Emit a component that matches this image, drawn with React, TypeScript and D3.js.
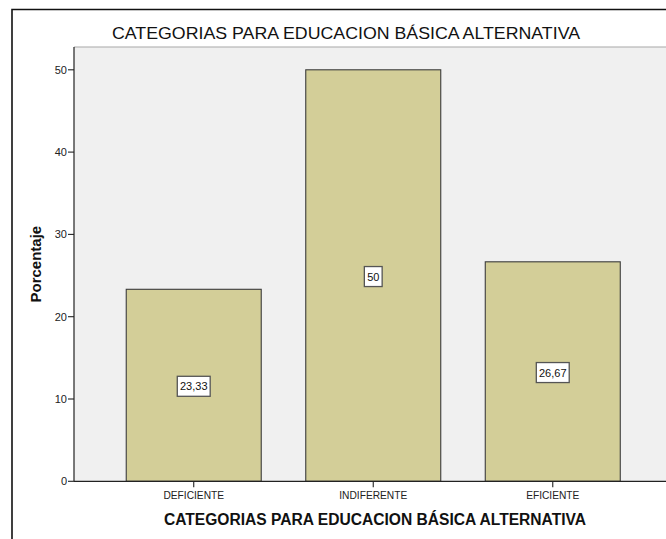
import React from 'react';
import * as d3 from 'd3';

// chart data
const categories = ['DEFICIENTE', 'INDIFERENTE', 'EFICIENTE'];
const percentages = [23.33, 50, 26.67];
const valueLabels = ['23,33', '50', '26,67'];
const yTicks = [0, 10, 20, 30, 40, 50];

const chartTitle = 'CATEGORIAS PARA EDUCACION BÁSICA ALTERNATIVA';
const xTitle = 'CATEGORIAS PARA EDUCACION BÁSICA ALTERNATIVA';
const yTitle = 'Porcentaje';

const W = 666;
const H = 539;
const plot = { left: 74, right: 672.5, top: 47, bottom: 481.3 };
const font = '"Liberation Sans", Arial, sans-serif';

const App = () => {
  const x = d3.scaleBand<string>()
    .domain(categories)
    .range([plot.left, plot.right])
    .paddingInner(0.248)
    .paddingOuter(0.291);

  const y = d3.scaleLinear()
    .domain([0, 50])
    .range([plot.bottom, plot.bottom - 411.5]);

  const barFill = '#D3CE98';

  return (
    <svg width={W} height={H} style={{ position: 'absolute', left: 0, top: 0, background: '#fff' }}>
      {/* outer frame */}
      <path d={`M12,${H + 2} L12,9.5 L${W + 2},9.5`} fill="none" stroke="#111" strokeWidth={1.6} />

      {/* title */}
      <text x={346} y={39} textAnchor="middle" fontFamily={font} fontSize={16.5} fill="#111"
        textLength={468} lengthAdjust="spacingAndGlyphs">
        {chartTitle}
      </text>

      {/* plot background */}
      <rect x={plot.left} y={plot.top} width={plot.right - plot.left} height={plot.bottom - plot.top} fill="#F0F0F0" />
      <line x1={plot.left} x2={plot.right} y1={plot.top} y2={plot.top} stroke="#A8A8A8" strokeWidth={1.2} />

      {/* bars */}
      {categories.map((c, i) => (
        <rect key={c}
          x={x(c)}
          y={y(percentages[i])}
          width={x.bandwidth()}
          height={y(0) - y(percentages[i])}
          fill={barFill}
          stroke="#3C3C3C"
          strokeWidth={1.1} />
      ))}

      {/* value labels */}
      {categories.map((c, i) => {
        const cx = (x(c) || 0) + x.bandwidth() / 2;
        const cy = (y(percentages[i]) + y(0)) / 2 + 1;
        const tw = valueLabels[i].length * 5.9 + (valueLabels[i].includes(',') ? -2.6 : 0);
        const bw = tw + 6;
        return (
          <g key={c + '-lbl'}>
            <rect x={cx - bw / 2} y={cy - 10} width={bw} height={20} fill="#fff" stroke="#555" strokeWidth={1.3} />
            <text x={cx} y={cy + 4} textAnchor="middle" fontFamily={font} fontSize={11} fill="#111">
              {valueLabels[i]}
            </text>
          </g>
        );
      })}

      {/* axes lines */}
      <line x1={plot.left} x2={plot.left} y1={plot.top} y2={plot.bottom} stroke="#222" strokeWidth={1.2} />
      <line x1={plot.left} x2={plot.right} y1={plot.bottom} y2={plot.bottom} stroke="#222" strokeWidth={1.2} />

      {/* y ticks */}
      {yTicks.map(t => (
        <g key={t}>
          <line x1={plot.left - 6} x2={plot.left} y1={y(t)} y2={y(t)} stroke="#222" strokeWidth={1.1} />
          <text x={plot.left - 7} y={y(t) + 4} textAnchor="end" fontFamily={font} fontSize={11} fill="#222">
            {t}
          </text>
        </g>
      ))}

      {/* x ticks */}
      {categories.map(c => {
        const cx = (x(c) || 0) + x.bandwidth() / 2;
        return (
          <g key={c + '-tick'}>
            <line x1={cx} x2={cx} y1={plot.bottom} y2={plot.bottom + 6} stroke="#222" strokeWidth={1.1} />
            <text x={cx} y={plot.bottom + 18} textAnchor="middle" fontFamily={font} fontSize={10.2} fill="#222">
              {c}
            </text>
          </g>
        );
      })}

      {/* axis titles */}
      <text x={375} y={525} textAnchor="middle" fontFamily={font} fontSize={15.6} fontWeight="bold" fill="#111">
        {xTitle}
      </text>
      <text transform={`translate(41,${(plot.top + plot.bottom) / 2}) rotate(-90)`} textAnchor="middle"
        fontFamily={font} fontSize={15} fontWeight="bold" fill="#111">
        {yTitle}
      </text>
    </svg>
  );
};

export default App;
